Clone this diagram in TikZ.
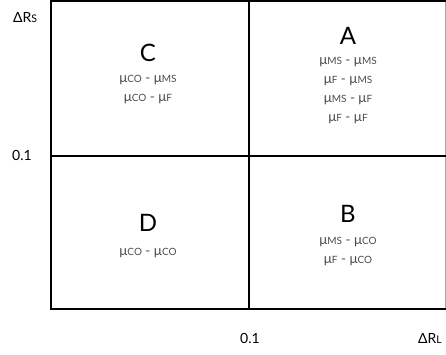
\documentclass[tikz,border=0pt]{standalone}
\usepackage{fontspec}
\setmainfont{Lato}
\definecolor{txtgray}{HTML}{4A4A4A}
\newcommand{\sm}[1]{{\fontsize{10pt}{11pt}\selectfont #1}}
\newcommand{\smax}[1]{{\fontsize{10.5pt}{11pt}\selectfont #1}}
\newcommand{\mux}[1]{μ\sm{#1}}
\begin{document}
\begin{tikzpicture}[x=1pt,y=-1pt,
  gridline/.style={line width=2.4pt, black},
  cellname/.style={font=\fontsize{24pt}{26pt}\selectfont, text=black, inner sep=0pt},
  pairs/.style={font=\fontsize{13.5pt}{19pt}\selectfont, text=txtgray, align=center, inner sep=0pt, anchor=north},
  axislabel/.style={font=\fontsize{14pt}{16pt}\selectfont, text=black, inner sep=0pt}]
\useasboundingbox (0,0) rectangle (446,354);
% frame and quadrant dividers
\draw[line width=1pt, black!35] (445.5,1.2) -- (445.5,309);
\draw[gridline] (51,1.2) -- (446,1.2);
\draw[gridline] (51,0) -- (51,309) -- (446,309);
\draw[gridline] (249,0) -- (249,309);
\draw[gridline] (51,156) -- (446,156);
% axis labels
\node[axislabel] (ys) at (25,18) {ΔR\smax{S}};
\node[axislabel] (yt) at (22,155) {0.1};
\node[axislabel] (xt) at (250,338) {0.1};
\node[axislabel] (xl) at (430,338) {ΔR\smax{L}};
% quadrant C
\node[cellname] (C) at (148,53) {C};
\node[pairs] (Cp) at (148,75) {\mux{CO} - \mux{MS}\\ \mux{CO} - \mux{F}};
% quadrant A
\node[cellname] (A) at (348,36) {A};
\node[pairs] (Ap) at (348,57) {\mux{MS} - \mux{MS}\\ \mux{F} - \mux{MS}\\ \mux{MS} - \mux{F}\\ \mux{F} - \mux{F}};
% quadrant D
\node[cellname] (D) at (148,223) {D};
\node[pairs] (Dp) at (148,248) {\mux{CO} - \mux{CO}};
% quadrant B
\node[cellname] (B) at (348,214) {B};
\node[pairs] (Bp) at (348,237) {\mux{MS} - \mux{CO}\\ \mux{F} - \mux{CO}};
\end{tikzpicture}
\end{document}
